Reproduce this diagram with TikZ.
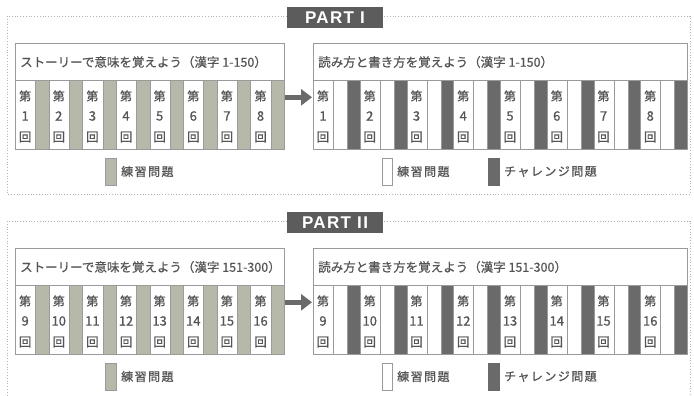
\documentclass[tikz,border=0pt]{standalone}
\usepackage{fontspec}
\setmainfont{Noto Sans CJK JP}
\newfontfamily\medfont[FakeBold=0.7]{Noto Sans CJK JP}
\newfontfamily\legfont[FakeBold=0.7,LetterSpace=12]{Noto Sans CJK JP}
\newfontfamily\lblfont[LetterSpace=8]{Liberation Sans}
\usetikzlibrary{arrows.meta}
\definecolor{lg}{HTML}{B6B8AA}
\definecolor{dg}{HTML}{6A6A6A}
\definecolor{bd}{HTML}{9A9A9A}
\definecolor{tx}{HTML}{555555}
\definecolor{fr}{HTML}{B4B4B4}
\definecolor{lab}{HTML}{5C5C5C}
\tikzset{
  frame/.style={draw=fr, dotted, line width=0.8pt},
  partlabel/.style={fill=lab, text=white, font=\lblfont\bfseries\fontsize{17}{17}\selectfont, minimum width=96pt, minimum height=21pt, inner sep=0pt},
  hdr/.style={draw=bd, fill=white, line width=0.6pt, inner sep=0pt, minimum height=37pt, anchor=north west},
  htext/.style={text=tx, anchor=west, inner sep=0pt, font=\medfont\fontsize{12.5}{13}\selectfont},
  cellbox/.style={draw=bd, line width=0.6pt, minimum height=69pt, inner sep=0pt, anchor=north west},
  wcell/.style={cellbox, fill=white},
  lbar/.style={cellbox, fill=lg},
  dbar/.style={cellbox, fill=dg},
  rowbox/.style={draw=bd, line width=0.6pt, minimum height=69pt, inner sep=0pt, anchor=north west},
  ctext/.style={text=tx, inner sep=0pt, font=\medfont\fontsize{12}{12}\selectfont},
  ntext/.style={text=tx, inner sep=0pt, font=\medfont\fontsize{13}{13}\selectfont},
  kai/.style={text=tx, inner sep=0pt, font=\medfont\fontsize{12.5}{12.5}\selectfont},
  legtext/.style={text=tx, anchor=west, inner sep=0pt, font=\legfont\fontsize{12}{12}\selectfont},
  swatch/.style={draw=bd, line width=0.6pt, minimum height=27pt, inner sep=0pt, anchor=north west},
  bigarrow/.style={draw=dg, line width=5pt, -{Triangle[length=11pt,width=16pt]}},
}
\newcommand\mkpart[6]{%
\begin{scope}[yshift=-#1pt]
  \draw[frame] (7,16) rectangle (690,194);
  \node[partlabel] (#6lab) at (335,17.5) {#2};
  % left block
  \node[hdr, minimum width=269pt] (#6Lh) at (15,43) {};
  \node[htext] (#6Lht) at (20,62) {#4};
  \foreach \i in {0,...,7}{%
    \pgfmathsetmacro\xa{15+\i*33.625}
    \pgfmathtruncatemacro\n{#3+\i}
    \node[wcell, minimum width=20.3pt] (#6Lw\i) at (\xa,80) {};
    \node[lbar, minimum width=13.325pt] (#6Lg\i) at (\xa+20.3,80) {};
    \node[ctext] (#6Lda\i) at (\xa+10.15,96) {第};
    \node[ntext] (#6Lnu\i) at (\xa+10.15,116) {\n};
    \node[kai] (#6Lka\i) at (\xa+10.15,137) {回};
  }
  \node[rowbox, minimum width=269pt] (#6Lrow) at (15,80) {};
  % right block
  \node[hdr, minimum width=374pt] (#6Rh) at (313,43) {};
  \node[htext] (#6Rht) at (318,62) {#5};
  \foreach \i in {0,...,7}{%
    \pgfmathsetmacro\xa{313+\i*46.75}
    \pgfmathtruncatemacro\n{#3+\i}
    \node[wcell, minimum width=20pt] (#6Rw\i) at (\xa,80) {};
    \node[wcell, minimum width=14pt] (#6Re\i) at (\xa+20,80) {};
    \node[dbar, minimum width=12.75pt] (#6Rd\i) at (\xa+34,80) {};
    \node[ctext] (#6Rda\i) at (\xa+10,96) {第};
    \node[ntext] (#6Rnu\i) at (\xa+10,116) {\n};
    \node[kai] (#6Rka\i) at (\xa+10,137) {回};
  }
  \node[rowbox, minimum width=374pt] (#6Rrow) at (313,80) {};
  \draw[bigarrow] ([yshift=17.5pt]#6Lrow.east) -- ([yshift=17.5pt,xshift=-1pt]#6Rrow.west);
  % legends
  \node[swatch, fill=lg, minimum width=11pt] (#6sw1) at (105,158) {};
  \node[legtext] (#6lt1) at (121,171.5) {練習問題};
  \node[swatch, fill=white, minimum width=10pt] (#6sw2) at (382,158) {};
  \node[legtext] (#6lt2) at (397,171.5) {練習問題};
  \node[swatch, fill=dg, draw=dg, minimum width=11pt] (#6sw3) at (488,158) {};
  \node[legtext] (#6lt3) at (504,171.5) {チャレンジ問題};
\end{scope}}
\begin{document}
\begin{tikzpicture}[x=1pt,y=-1pt]
\fill[white] (0,0) rectangle (694,396);
\useasboundingbox (0,0) rectangle (694,396);
\mkpart{0}{PART I}{1}{ストーリーで意味を覚えよう（漢字 1-150）}{読み方と書き方を覚えよう（漢字 1-150）}{A}
\mkpart{205}{PART II}{9}{ストーリーで意味を覚えよう（漢字 151-300）}{読み方と書き方を覚えよう（漢字 151-300）}{B}
\end{tikzpicture}
\end{document}
